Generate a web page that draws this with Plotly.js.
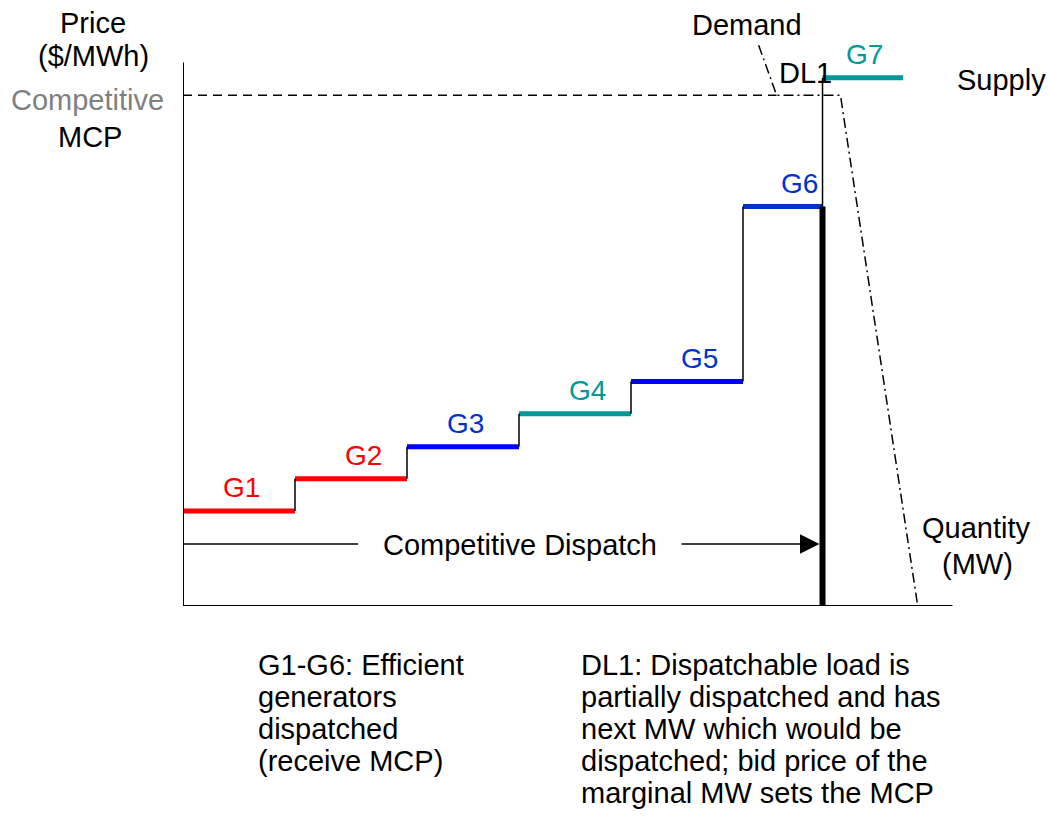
<!DOCTYPE html>
<html>
<head>
<meta charset="utf-8">
<script src="https://cdn.plot.ly/plotly-3.0.1.min.js"></script>
<style>html,body{margin:0;padding:0;background:#fff;}#chart{width:1050px;height:816px;}</style>
</head>
<body>
<div id="chart"></div>
<script>
// ---- data ----
const generators = ['G1', 'G2', 'G3', 'G4', 'G5', 'G6', 'G7'];
const stepStartMW = [0, 100, 200, 300, 400, 500, 571];
const stepEndMW = [100, 200, 300, 400, 500, 571, 643];
const offerPrice = [17.5, 23.4, 29.3, 35.4, 41.3, 73.5, 97.2];
const competitiveMCP = 94;
const dispatchedMW = 571;
const demandMW = [514, 530, 587, 656];
const demandPrice = [103.2, 94, 94, 0];
const axisMaxMW = 687;
const axisMaxPrice = 100;
const leftNote = ['G1-G6: Efficient', 'generators', 'dispatched', '(receive MCP)'];
const rightNote = ['DL1: Dispatchable load is', 'partially dispatched and has', 'next MW which would be', 'dispatched; bid price of the', 'marginal MW sets the MCP'];

// ---- styles ----
const lineColors = ['#ff0000', '#ff0000', '#0000ff', '#009999', '#0000ff', '#0033cc', '#009999'];
const labelColors = ['#ff0000', '#ff0000', '#0033cc', '#009999', '#0033cc', '#0033cc', '#009999'];
const labelXShift = [2, 12, 2, 12, 12, 17, 2];
const FONT = 'Liberation Sans, Arial, Helvetica, sans-serif';
const FS = 29;

// plot area geometry (pixels)
const L = 183, R = 90, T = 30, B = 210, W = 1050, H = 816;
const PW = W - L - R, PH = H - T - B;
function px(x) { return (x - L) / PW; }
function py(y) { return (H - B - y) / PH; }

const traces = [];
// supply steps
generators.forEach((g, i) => {
  traces.push({
    type: 'scatter', mode: 'lines', name: g,
    x: [stepStartMW[i], stepEndMW[i]], y: [offerPrice[i], offerPrice[i]],
    line: {color: lineColors[i], width: 5}, hoverinfo: 'skip'
  });
});
// vertical step connectors
const cx = [], cy = [];
for (let i = 0; i < generators.length - 1; i++) {
  cx.push(stepEndMW[i], stepEndMW[i], null);
  cy.push(offerPrice[i], offerPrice[i + 1], null);
}
traces.push({type: 'scatter', mode: 'lines', x: cx, y: cy, line: {color: '#000', width: 1.5}, hoverinfo: 'skip'});
// dispatched quantity (thick)
traces.push({type: 'scatter', mode: 'lines', x: [dispatchedMW, dispatchedMW], y: [0, offerPrice[5]],
  line: {color: '#000', width: 6}, hoverinfo: 'skip'});
// competitive MCP dashed
traces.push({type: 'scatter', mode: 'lines', x: [0, demandMW[1]], y: [competitiveMCP, competitiveMCP],
  line: {color: '#000', width: 1.5, dash: '9px,6px'}, hoverinfo: 'skip'});
// demand curve
traces.push({type: 'scatter', mode: 'lines', x: demandMW, y: demandPrice,
  line: {color: '#000', width: 1.5, dash: '10px,4px,2px,4px'}, hoverinfo: 'skip'});

const dispatchArrowY = (H - B - 544) / PH * 106;
// left part of competitive dispatch arrow
traces.push({type: 'scatter', mode: 'lines', x: [0, (358 - L) / PW * 693.75], y: [dispatchArrowY, dispatchArrowY],
  line: {color: '#000', width: 1.5}, hoverinfo: 'skip'});

const ann = [];
function txt(text, x, y, opts) {
  ann.push(Object.assign({text: text, xref: 'paper', yref: 'paper', x: px(x), y: py(y),
    xanchor: 'center', yanchor: 'middle', showarrow: false,
    font: {family: FONT, size: FS, color: '#000'}}, opts || {}));
}
generators.forEach((g, i) => {
  ann.push({text: g, x: (stepStartMW[i] + stepEndMW[i]) / 2, y: offerPrice[i], xref: 'x', yref: 'y',
    xanchor: 'center', yanchor: 'middle', yshift: 23, xshift: labelXShift[i], showarrow: false,
    font: {family: FONT, size: 28, color: labelColors[i]}});
});
// arrow
ann.push({x: dispatchedMW, y: dispatchArrowY, ax: (680 - L) / PW * 693.75, ay: dispatchArrowY,
  xref: 'x', yref: 'y', axref: 'x', ayref: 'y', text: '', showarrow: true,
  arrowhead: 2, arrowsize: 2.6, arrowwidth: 1.5, arrowcolor: '#000', standoff: 3});
txt('Competitive Dispatch', 520, 545);
txt('Price', 93, 23);
txt('($/MWh)', 93, 56);
txt('Competitive', 87, 100, {font: {family: FONT, size: FS, color: '#808080'}});
txt('MCP', 90, 137);
txt('Demand', 747, 25);
txt('DL1', 805, 73);
txt('Supply', 1001, 80);
txt('Quantity', 976, 528);
txt('(MW)', 977, 564);
leftNote.forEach((s, i) => txt(s, 256, 665 + 32 * i, {xanchor: 'left'}));
rightNote.forEach((s, i) => txt(s, 579, 665 + 32 * i, {xanchor: 'left'}));

const layout = {
  width: W, height: H,
  margin: {l: L, r: R, t: T, b: B, pad: 0},
  paper_bgcolor: '#fff', plot_bgcolor: '#fff',
  showlegend: false,
  xaxis: {range: [0, 693.75], visible: false, fixedrange: true},
  yaxis: {range: [0, 106], visible: false, fixedrange: true},
  shapes: [
    {type: 'line', xref: 'x', yref: 'y', x0: 0, x1: axisMaxMW, y0: 0, y1: 0, line: {color: '#000', width: 2}},
    {type: 'line', xref: 'x', yref: 'y', x0: 0, x1: 0, y0: 0, y1: axisMaxPrice, line: {color: '#000', width: 2}}
  ],
  annotations: ann
};
Plotly.newPlot('chart', traces, layout, {displayModeBar: false, staticPlot: true});
</script>
</body>
</html>
